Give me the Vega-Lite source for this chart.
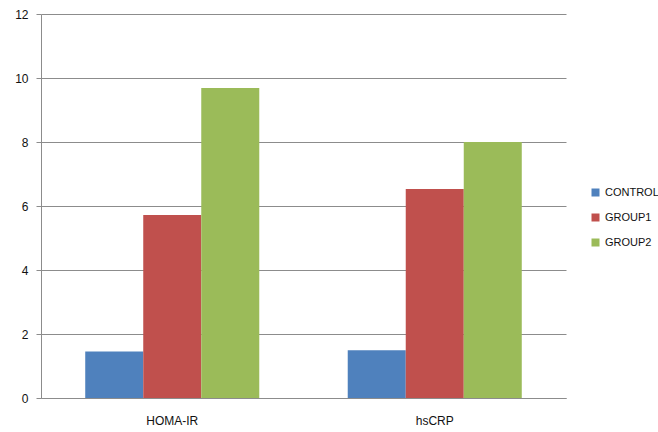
{
  "$schema": "https://vega.github.io/schema/vega-lite/v6.json",
  "width": 525,
  "height": 384,
  "autosize": {"type": "none"},
  "padding": {"left": 41, "top": 14, "right": 92, "bottom": 34},
  "background": "white",
  "data": {"values": [
    {"cat": "HOMA-IR", "group": "CONTROL", "value": 1.45},
    {"cat": "HOMA-IR", "group": "GROUP1", "value": 5.72},
    {"cat": "HOMA-IR", "group": "GROUP2", "value": 9.69},
    {"cat": "hsCRP", "group": "CONTROL", "value": 1.49},
    {"cat": "hsCRP", "group": "GROUP1", "value": 6.53},
    {"cat": "hsCRP", "group": "GROUP2", "value": 8.0}
  ]},
  "mark": {"type": "bar"},
  "encoding": {
    "x": {"field": "cat", "type": "nominal", "sort": ["HOMA-IR", "hsCRP"],
      "scale": {"paddingInner": 0.337, "paddingOuter": 0.1685},
      "axis": {"title": null, "labelAngle": 0, "ticks": false, "labelPadding": 17, "domainColor": "#8c8c8c", "labelFont": "Liberation Sans", "labelFontSize": 12, "labelColor": "#111111"}},
    "xOffset": {"field": "group", "type": "nominal", "scale": {"paddingInner": 0, "paddingOuter": 0}},
    "y": {"field": "value", "type": "quantitative",
      "scale": {"domain": [0, 12], "nice": false},
      "axis": {"title": null, "values": [0, 2, 4, 6, 8, 10, 12], "tickSize": 5, "tickColor": "#8c8c8c", "domainColor": "#8c8c8c", "gridColor": "#8c8c8c", "labelPadding": 8, "labelFont": "Liberation Sans", "labelFontSize": 12, "labelColor": "#111111"}},
    "color": {"field": "group", "type": "nominal",
      "scale": {"domain": ["CONTROL", "GROUP1", "GROUP2"], "range": ["#4F81BD", "#C0504D", "#9BBB59"]},
      "legend": {"title": null, "orient": "none", "legendX": 549, "legendY": 173, "symbolType": "square", "symbolSize": 64, "rowPadding": 13, "labelFont": "Liberation Sans", "labelFontSize": 11, "labelColor": "#111111", "labelOffset": 4, "symbolStrokeWidth": 0}}
  },
  "config": {"view": {"stroke": null}, "axis": {"grid": true}, "axisX": {"grid": false}}
}
